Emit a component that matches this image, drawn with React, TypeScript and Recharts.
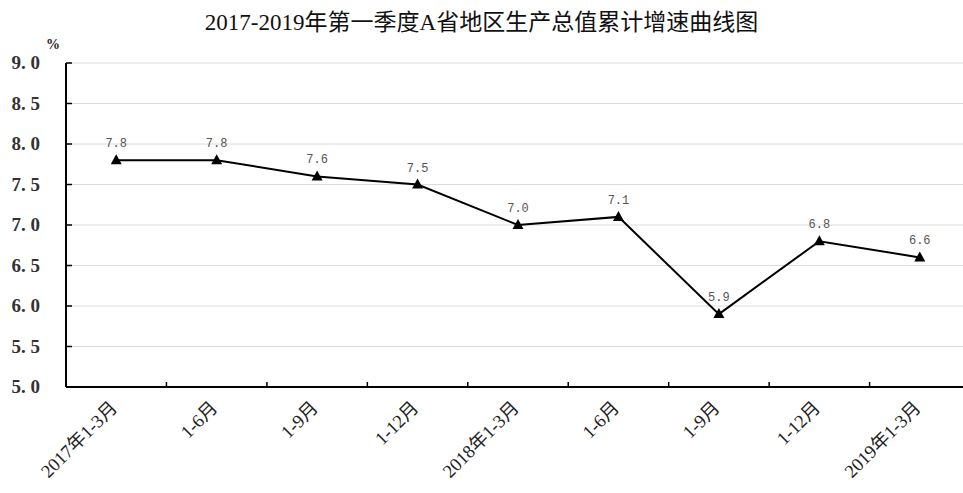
import React from 'react';
import { LineChart, Line, XAxis, YAxis, CartesianGrid, LabelList } from 'recharts';

const periods = ['2017年1-3月', '1-6月', '1-9月', '1-12月', '2018年1-3月', '1-6月', '1-9月', '1-12月', '2019年1-3月'];
const growth = [7.8, 7.8, 7.6, 7.5, 7.0, 7.1, 5.9, 6.8, 6.6];
const yTicks = [5.0, 5.5, 6.0, 6.5, 7.0, 7.5, 8.0, 8.5, 9.0];

const FONT = '"Liberation Serif", "DejaVu Serif", "Noto Sans CJK SC", serif';
const MONO = '"Liberation Mono", "DejaVu Sans Mono", monospace';

const data = periods.map((p, i) => ({ x: i + 0.5, name: p, value: growth[i] }));

// tick positions: category boundaries (integers) get a tick mark, centers (halves) get a label
const xTicks: number[] = [];
for (let i = 0; i <= periods.length * 2; i++) xTicks.push(i / 2);

const XTick = (props: any) => {
  const { x, y, payload } = props;
  const v = payload.value;
  if (Number.isInteger(v)) {
    return <line x1={x} y1={y} x2={x} y2={y - 5} stroke="#000" strokeWidth={1.5} />;
  }
  const label = periods[Math.floor(v)];
  return (
    <text
      x={x + 2}
      y={y + 22}
      transform={`rotate(-45, ${x + 2}, ${y + 22})`}
      textAnchor="end"
      fontSize={18.5}
      fontFamily={FONT}
      fill="#222"
    >
      {label}
    </text>
  );
};

const YTick = (props: any) => {
  const { x, y, payload } = props;
  const [a, b] = Number(payload.value).toFixed(1).split('.');
  return (
    <text x={x + 40} y={y} dy={6} textAnchor="end" fontSize={19} fontFamily={FONT} fontWeight={600} fill="#333">
      {`${a}. ${b}`}
    </text>
  );
};

const Triangle = (props: any) => {
  const { cx, cy } = props;
  if (cx == null || cy == null) return null;
  return <polygon points={`${cx},${cy - 6} ${cx - 5.5},${cy + 4} ${cx + 5.5},${cy + 4}`} fill="#000" />;
};

export default function App() {
  return (
    <div style={{ position: 'absolute', left: 0, top: 0, width: 963, height: 493, overflow: 'hidden', background: '#fff' }}>
      <div
        style={{
          position: 'absolute',
          left: 0,
          top: 3,
          width: 963,
          textAlign: 'center',
          fontFamily: FONT,
          fontSize: 23,
          color: '#111',
        }}
      >
        2017-2019年第一季度A省地区生产总值累计增速曲线图
      </div>
      <div style={{ position: 'absolute', left: 46, top: 37, fontFamily: FONT, fontSize: 14, fontWeight: 'bold', color: '#222' }}>
        %
      </div>
      <div style={{ position: 'absolute', left: 0, top: 0 }}>
        <LineChart width={975} height={493} data={data} margin={{ top: 63, right: 5, bottom: 0, left: 0 }}>
          <CartesianGrid vertical={false} stroke="#dcdcdc" />
          <XAxis
            dataKey="x"
            type="number"
            domain={[0, periods.length]}
            ticks={xTicks}
            interval={0}
            tick={<XTick />}
            tickLine={false}
            tickSize={0}
            tickMargin={0}
            height={106}
            axisLine={{ stroke: '#000', strokeWidth: 2 }}
          />
          <YAxis
            domain={[5, 9]}
            ticks={yTicks}
            interval={0}
            width={66}
            tickSize={-6}
            tickMargin={72}
            tickLine={{ stroke: '#000', strokeWidth: 1.5 }}
            axisLine={{ stroke: '#000', strokeWidth: 2 }}
            tick={<YTick />}
          />
          <Line
            type="linear"
            dataKey="value"
            stroke="#000"
            strokeWidth={2}
            dot={<Triangle />}
            activeDot={false}
            isAnimationActive={false}
          >
            <LabelList
              dataKey="value"
              position="top"
              offset={13}
              formatter={(v: number) => v.toFixed(1)}
              fill="#555"
              fontSize={12}
              fontFamily={MONO}
            />
          </Line>
        </LineChart>
      </div>
    </div>
  );
}
